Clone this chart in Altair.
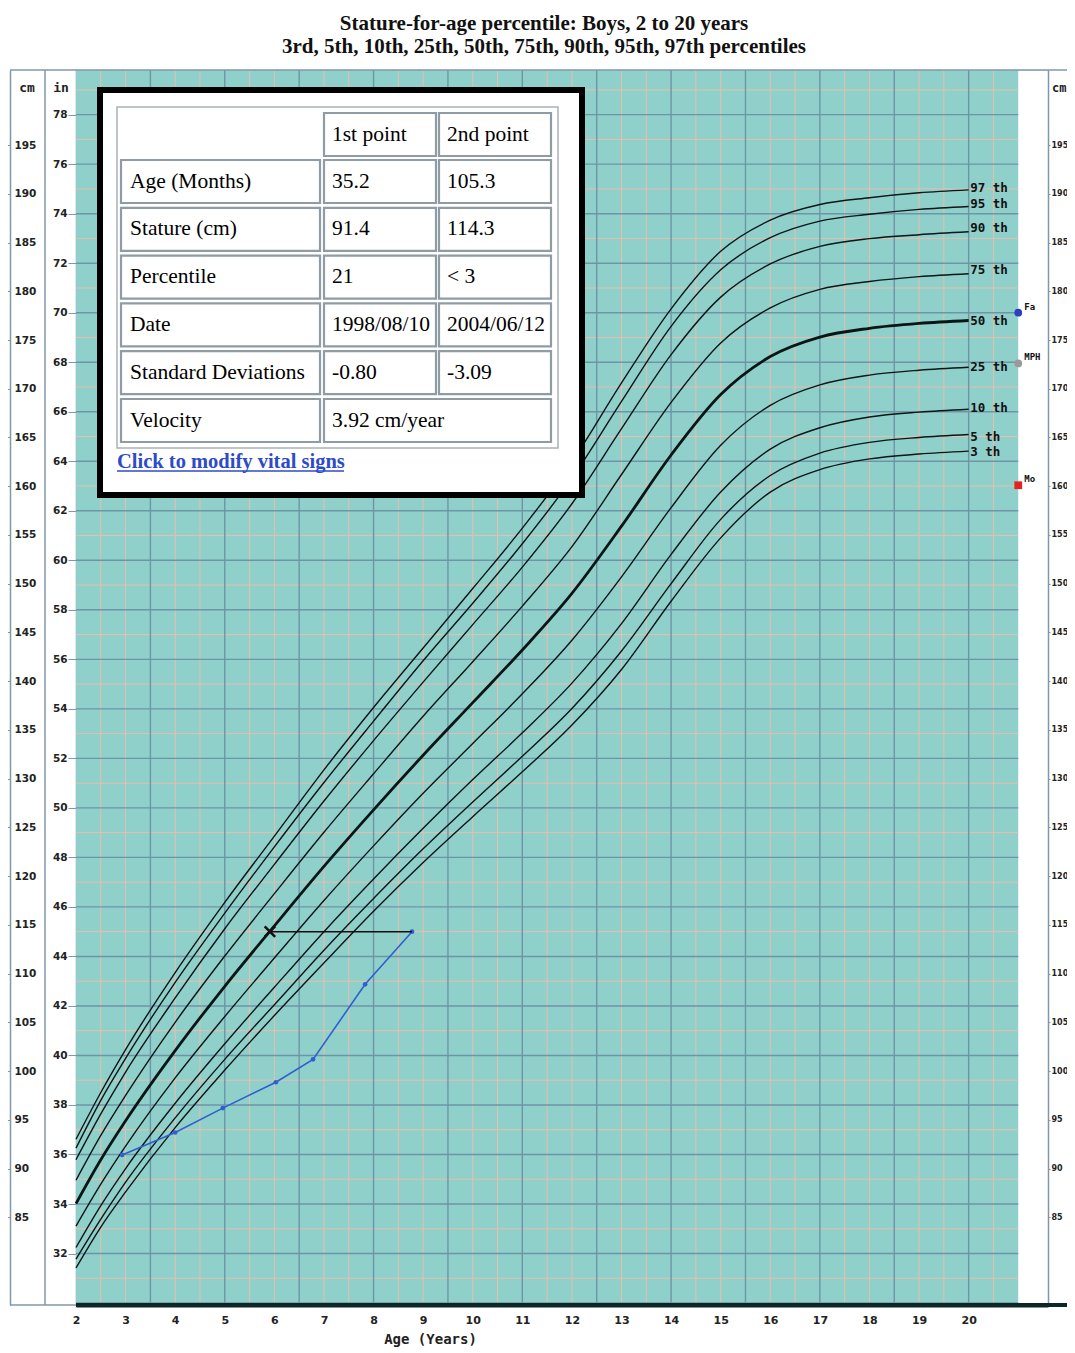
import altair as alt
import pandas as pd

# ---------------- data ----------------
ages = [2, 2.5, 3, 4, 5, 6, 7, 8, 9, 10, 11, 12, 13, 14, 15, 16, 17, 18, 19, 20]
p3 = [79.8, 84.0, 87.6, 94.2, 100.1, 105.7, 111.1, 116.4, 121.4, 126.1, 130.7, 135.5, 141.2, 148.2, 154.7, 159.4, 161.7, 162.8, 163.3, 163.6]
p5 = [80.7, 84.8, 88.6, 95.2, 101.2, 106.8, 112.4, 117.7, 122.8, 127.6, 132.3, 137.2, 143.1, 150.0, 156.6, 161.1, 163.4, 164.5, 165.0, 165.3]
p10 = [81.9, 86.2, 90.0, 96.7, 102.8, 108.6, 114.3, 119.7, 124.9, 129.9, 134.7, 139.8, 145.9, 153.0, 159.4, 163.8, 166.0, 167.1, 167.6, 167.9]
p25 = [84.1, 88.4, 92.3, 99.3, 105.6, 111.6, 117.5, 123.1, 128.5, 133.6, 138.7, 144.2, 150.7, 157.8, 164.2, 168.3, 170.4, 171.4, 171.9, 172.2]
p50 = [86.4, 90.9, 94.9, 102.1, 108.7, 114.9, 121.0, 126.8, 132.4, 137.8, 143.2, 149.0, 155.9, 163.2, 169.4, 173.3, 175.3, 176.2, 176.7, 177.0]
p75 = [88.8, 93.4, 97.5, 105.0, 111.8, 118.2, 124.5, 130.5, 136.4, 142.0, 147.7, 153.8, 161.2, 168.6, 174.7, 178.3, 180.2, 181.0, 181.5, 181.8]
p90 = [90.9, 95.6, 99.9, 107.5, 114.6, 121.2, 127.7, 133.9, 139.9, 145.8, 151.7, 158.2, 165.9, 173.5, 179.4, 182.8, 184.6, 185.4, 185.8, 186.1]
p95 = [92.1, 97.0, 101.3, 109.1, 116.2, 123.0, 129.6, 135.9, 142.1, 148.0, 154.1, 160.8, 168.7, 176.4, 182.2, 185.5, 187.2, 187.9, 188.4, 188.7]
p97 = [93.0, 97.8, 102.2, 110.1, 117.3, 124.1, 130.9, 137.3, 143.4, 149.5, 155.7, 162.5, 170.6, 178.2, 184.1, 187.3, 188.9, 189.6, 190.1, 190.4]

pct_names = ["3", "5", "10", "25", "50", "75", "90", "95", "97"]
pct_labels = ["3 th", "5 th", "10 th", "25 th", "50 th", "75 th", "90 th", "95 th", "97 th"]
pct_label_cm = [163.5, 165.1, 168.0, 172.2, 177.0, 182.2, 186.5, 189.0, 190.6]

patient_age = [2.93, 4.0, 4.96, 6.03, 6.78, 7.83, 8.775]
patient_cm = [91.4, 93.7, 96.2, 98.85, 101.2, 108.9, 114.3]

height_age = [8.775, 5.91]
height_age_cm = [114.3, 114.3]

parent_names = ["Fa", "MPH", "Mo"]
parent_cm = [177.8, 172.6, 160.1]
parent_age = [21.0, 21.0, 21.0]
parent_colors = ["#2a3fc4", "#9a9a9a", "#e52222"]

x_ticks = list(range(2, 21))
cm_ticks = list(range(85, 200, 5))
in_ticks = list(range(32, 80, 2))
in_grid_major = list(range(30, 80, 2))
in_grid_minor = list(range(31, 80, 2))
age_grid_major = [3.5, 5, 6.5, 8, 9.5, 11, 12.5, 14, 15.5, 17, 18.5, 20]
age_grid_minor = [2.5, 3, 4, 4.5, 5.5, 6, 7, 7.5, 8.5, 9, 10, 10.5, 11.5, 12, 13, 13.5,
                  14.5, 15, 16, 16.5, 17.5, 18, 19, 19.5, 20.5]

row_labels = ["Age (Months)", "Stature (cm)", "Percentile", "Date", "Standard Deviations", "Velocity"]
first_point = ["35.2", "91.4", "21", "1998/08/10", "-0.80"]
second_point = ["105.3", "114.3", "< 3", "2004/06/12", "-3.09"]
velocity_text = "3.92 cm/year"
headers = ["1st point", "2nd point"]
link_text = "Click to modify vital signs"

# ---------------- layout ----------------
W, H = 972, 1235
X_DOM = [2, 21.6]
CM_DOM = [76.0, 202.7]
IN_DOM = [CM_DOM[0] / 2.54, CM_DOM[1] / 2.54]

TEAL = "#8fd0cb"
GRID_DARK = "#6e95a6"
GRID_PINK = "#e6bfae"
FRAME = "#7f98a8"
LINE = "#0a1616"
AXFONT = "DejaVu Sans"

xs = alt.Scale(domain=X_DOM, nice=False, zero=False)
cms = alt.Scale(domain=CM_DOM, nice=False, zero=False)
ins = alt.Scale(domain=IN_DOM, nice=False, zero=False)

X_AXIS = alt.Axis(
    values=x_ticks, title="Age (Years)", labelFont=AXFONT, labelFontWeight="bold",
    labelFontSize=11, labelColor="#222", labelPadding=9, labelFlush=False, ticks=False,
    grid=False, domainColor="#0d2626", domainWidth=4, titleX=354, titleY=34,
    titleFont="DejaVu Sans Mono", titleFontSize=14, titleFontWeight="bold",
    titleColor="#222", titleAlign="center", titleBaseline="middle")


def X(field="age"):
    return alt.X(f"{field}:Q", scale=xs, axis=X_AXIS)


def Ycm(field="cm", axis=None):
    return alt.Y(f"{field}:Q", scale=cms, axis=axis)


one = pd.DataFrame({"a": [0]})

teal = alt.Chart(pd.DataFrame({"age": [2], "age2": [21]})).mark_rect(color=TEAL).encode(
    x=X(), x2="age2:Q", y=alt.value(0), y2=alt.value(H))

GX2 = W * 19 / 19.6
vmin = alt.Chart(pd.DataFrame({"age": age_grid_minor})).mark_rule(color=GRID_PINK, strokeWidth=1).encode(
    x=X(), y=alt.value(0), y2=alt.value(H))
hmin = alt.Chart(pd.DataFrame({"inch": in_grid_minor})).mark_rule(color=GRID_PINK, strokeWidth=1).encode(
    y=alt.Y("inch:Q", scale=ins, axis=None), x=alt.value(0), x2=alt.value(GX2))
vmaj = alt.Chart(pd.DataFrame({"age": age_grid_major})).mark_rule(color=GRID_DARK, strokeWidth=1.4).encode(
    x=X(), y=alt.value(0), y2=alt.value(H))
hmaj = alt.Chart(pd.DataFrame({"inch": in_grid_major})).mark_rule(color=GRID_DARK, strokeWidth=1.4).encode(
    y=alt.Y("inch:Q", scale=ins, axis=None), x=alt.value(0), x2=alt.value(GX2))

in_axis = alt.Chart(pd.DataFrame({"inch": [in_ticks[0]]})).mark_point(opacity=0).encode(
    y=alt.Y("inch:Q", scale=ins, axis=alt.Axis(
        orient="left", offset=0, values=in_ticks, title=None, labelFont=AXFONT,
        labelFontWeight="bold", labelFontSize=10.5, labelColor="#222", tickSize=8,
        tickColor=FRAME, labelPadding=1, domainColor=FRAME, domainWidth=1.5, grid=False)),
    x=alt.value(0))

cm_axis_left = alt.Chart(pd.DataFrame({"cm": [cm_ticks[0]]})).mark_point(opacity=0).encode(
    y=Ycm(axis=alt.Axis(
        orient="left", offset=66, values=cm_ticks, title=None, labelFont=AXFONT,
        labelFontWeight="bold", labelFontSize=10.5, labelColor="#222", tickSize=3,
        tickColor=FRAME, labelAlign="left", labelPadding=-7, domainColor=FRAME,
        domainWidth=1.5, grid=False)),
    x=alt.value(0))

cm_axis_right = alt.Chart(pd.DataFrame({"cm": [cm_ticks[0]]})).mark_point(opacity=0).encode(
    y=Ycm(axis=alt.Axis(
        orient="right", offset=0, values=cm_ticks, title=None, labelFont=AXFONT,
        labelFontWeight="bold", labelFontSize=8, labelColor="#222", tickSize=2,
        tickColor=FRAME, labelPadding=1, domainColor=FRAME, domainWidth=1.5, grid=False)),
    x=alt.value(0))

series = [p3, p5, p10, p25, p50, p75, p90, p95, p97]
rows = []
for name, vals in zip(pct_names, series):
    for a, v in zip(ages, vals):
        rows.append({"pct": name, "age": a, "cm": v})
curves_df = pd.DataFrame(rows)

thin = alt.Chart(curves_df[curves_df.pct != "50"]).mark_line(
    color=LINE, strokeWidth=1.4, interpolate="monotone").encode(
    x=X(), y=Ycm(), detail="pct:N")
thick = alt.Chart(curves_df[curves_df.pct == "50"]).mark_line(
    color=LINE, strokeWidth=2.8, interpolate="monotone").encode(
    x=X(), y=Ycm())

lab_df = pd.DataFrame({"age": [20.03] * len(pct_labels), "cm": pct_label_cm, "t": pct_labels})
pct_text = alt.Chart(lab_df).mark_text(
    align="left", baseline="middle", font="DejaVu Sans Mono", fontSize=12.5,
    fontWeight="bold", color="#111").encode(x=X(), y=Ycm(), text="t:N")

pat_df = pd.DataFrame({"age": patient_age, "cm": patient_cm})
pat_line = alt.Chart(pat_df).mark_line(color="#2f5fd0", strokeWidth=1.6).encode(x=X(), y=Ycm())
pat_pts = alt.Chart(pat_df).mark_circle(color="#2f5fd0", size=22, opacity=1).encode(x=X(), y=Ycm())

ha_df = pd.DataFrame({"age": height_age, "cm": height_age_cm})
ha_line = alt.Chart(ha_df).mark_line(color="#111", strokeWidth=1.5).encode(x=X(), y=Ycm())
ha_x = alt.Chart(ha_df.iloc[[1]]).mark_point(
    shape="M-1,-1L1,1M-1,1L1,-1", filled=False, color="#111", strokeWidth=2.5, size=110,
    opacity=1).encode(x=X(), y=Ycm())

par_df = pd.DataFrame({"age": parent_age, "cm": parent_cm, "name": parent_names, "c": parent_colors,
                       "shape": ["circle", "circle", "square"]})
par_pts = alt.Chart(par_df).mark_point(filled=True, size=60, opacity=1).encode(
    x=X(), y=Ycm(), color=alt.Color("c:N", scale=None),
    shape=alt.Shape("shape:N", scale=None))
par_txt = alt.Chart(par_df).mark_text(
    align="left", baseline="bottom", dx=6, dy=-1, font="DejaVu Sans Mono", fontSize=9,
    fontWeight="bold", color="#111").encode(x=X(), y=Ycm(), text="name:N")

frame = alt.Chart(one).mark_rule(color=FRAME, strokeWidth=1.5)
top_line = frame.encode(x=alt.value(-66), x2=alt.value(W + 30), y=alt.value(0))
col_line = frame.encode(x=alt.value(-31), y=alt.value(0), y2=alt.value(H))
col_bottom = frame.encode(x=alt.value(-66), x2=alt.value(0), y=alt.value(H))
bottom_black = alt.Chart(one).mark_rule(color="#0d2626", strokeWidth=4).encode(
    x=alt.value(0), x2=alt.value(W + 30), y=alt.value(H))

hdr_df = pd.DataFrame({"px": [-49, -15, W + 4], "py": [18, 18, 18], "t": ["cm", "in", "cm"]})
hdr_c = alt.Chart(hdr_df.iloc[:2]).mark_text(font="DejaVu Sans Mono", fontSize=13, fontWeight="bold",
                                             color="#222", baseline="middle").encode(
    x=alt.X("px:Q", scale=None, axis=None), y=alt.Y("py:Q", scale=None, axis=None), text="t:N")
hdr_r = alt.Chart(hdr_df.iloc[2:]).mark_text(font="DejaVu Sans Mono", fontSize=12, fontWeight="bold",
                                             color="#222", baseline="middle", align="left").encode(
    x=alt.X("px:Q", scale=None, axis=None), y=alt.Y("py:Q", scale=None, axis=None), text="t:N")

# ---------------- info table ----------------
COLS = [(45, 244), (248, 360), (363, 475)]
TX = [54, 256, 371]
cells, texts = [], []
for j, h in enumerate(headers):
    x0, x1 = COLS[j + 1]
    cells.append({"x0": x0, "x1": x1, "y0": 43, "y1": 86})
    texts.append({"tx": TX[j + 1], "ty": 65, "t": h})
for i, lab in enumerate(row_labels):
    y0 = 90 + 47.8 * i
    y1 = y0 + 43
    yc = (y0 + y1) / 2
    cells.append({"x0": COLS[0][0], "x1": COLS[0][1], "y0": y0, "y1": y1})
    texts.append({"tx": TX[0], "ty": yc, "t": lab})
    if i < len(first_point):
        cells.append({"x0": COLS[1][0], "x1": COLS[1][1], "y0": y0, "y1": y1})
        cells.append({"x0": COLS[2][0], "x1": COLS[2][1], "y0": y0, "y1": y1})
        texts.append({"tx": TX[1], "ty": yc, "t": first_point[i]})
        texts.append({"tx": TX[2], "ty": yc, "t": second_point[i]})
    else:
        cells.append({"x0": COLS[1][0], "x1": COLS[2][1], "y0": y0, "y1": y1})
        texts.append({"tx": TX[1], "ty": yc, "t": velocity_text})

box = alt.Chart(one).mark_rect(fill="white", stroke="black", strokeWidth=6).encode(
    x=alt.value(24), x2=alt.value(506), y=alt.value(20), y2=alt.value(425))
tbl_border = alt.Chart(one).mark_rect(fill="white", stroke="#a9b3b8", strokeWidth=1.5).encode(
    x=alt.value(41), x2=alt.value(482), y=alt.value(37), y2=alt.value(378))
cell_rects = alt.Chart(pd.DataFrame(cells)).mark_rect(
    fill="white", stroke="#8f9ca4", strokeWidth=2.2).encode(
    x=alt.X("x0:Q", scale=None, axis=None), x2="x1:Q",
    y=alt.Y("y0:Q", scale=None, axis=None), y2="y1:Q")
cell_text = alt.Chart(pd.DataFrame(texts)).mark_text(
    align="left", baseline="middle", font="Liberation Serif", fontSize=21.5, color="#000").encode(
    x=alt.X("tx:Q", scale=None, axis=None), y=alt.Y("ty:Q", scale=None, axis=None), text="t:N")
link = alt.Chart(one).mark_text(
    text=link_text, align="left", baseline="alphabetic", font="Liberation Serif", fontSize=20.5,
    fontWeight="bold", color="#2d4bc9").encode(x=alt.value(41), y=alt.value(398))
link_ul = alt.Chart(one).mark_rule(color="#2d4bc9", strokeWidth=1.5).encode(
    x=alt.value(41), x2=alt.value(268), y=alt.value(401))

chart = alt.layer(
    teal, vmin, hmin, vmaj, hmaj, in_axis, cm_axis_left, cm_axis_right,
    thin, thick, pct_text, pat_line, pat_pts, ha_line, ha_x, par_pts, par_txt,
    top_line, col_line, col_bottom, bottom_black, hdr_c, hdr_r,
    box, tbl_border, cell_rects, cell_text, link, link_ul,
).resolve_scale(y="independent").resolve_axis(y="independent").properties(
    width=W, height=H,
    autosize=alt.AutoSizeParams(type="none"),
    padding={"left": 68, "top": 62, "right": 19, "bottom": 45},
    title=alt.TitleParams(
        text=["Stature-for-age percentile: Boys, 2 to 20 years",
              "3rd, 5th, 10th, 25th, 50th, 75th, 90th, 95th, 97th percentiles"],
        font="Liberation Serif", fontSize=21, fontWeight="bold", color="#111",
        anchor="middle", dx=-18, offset=12, lineHeight=23),
).configure_view(stroke=None).configure(background="white")

chart.save("out.html", embed_options={"renderer": "svg", "actions": False})
